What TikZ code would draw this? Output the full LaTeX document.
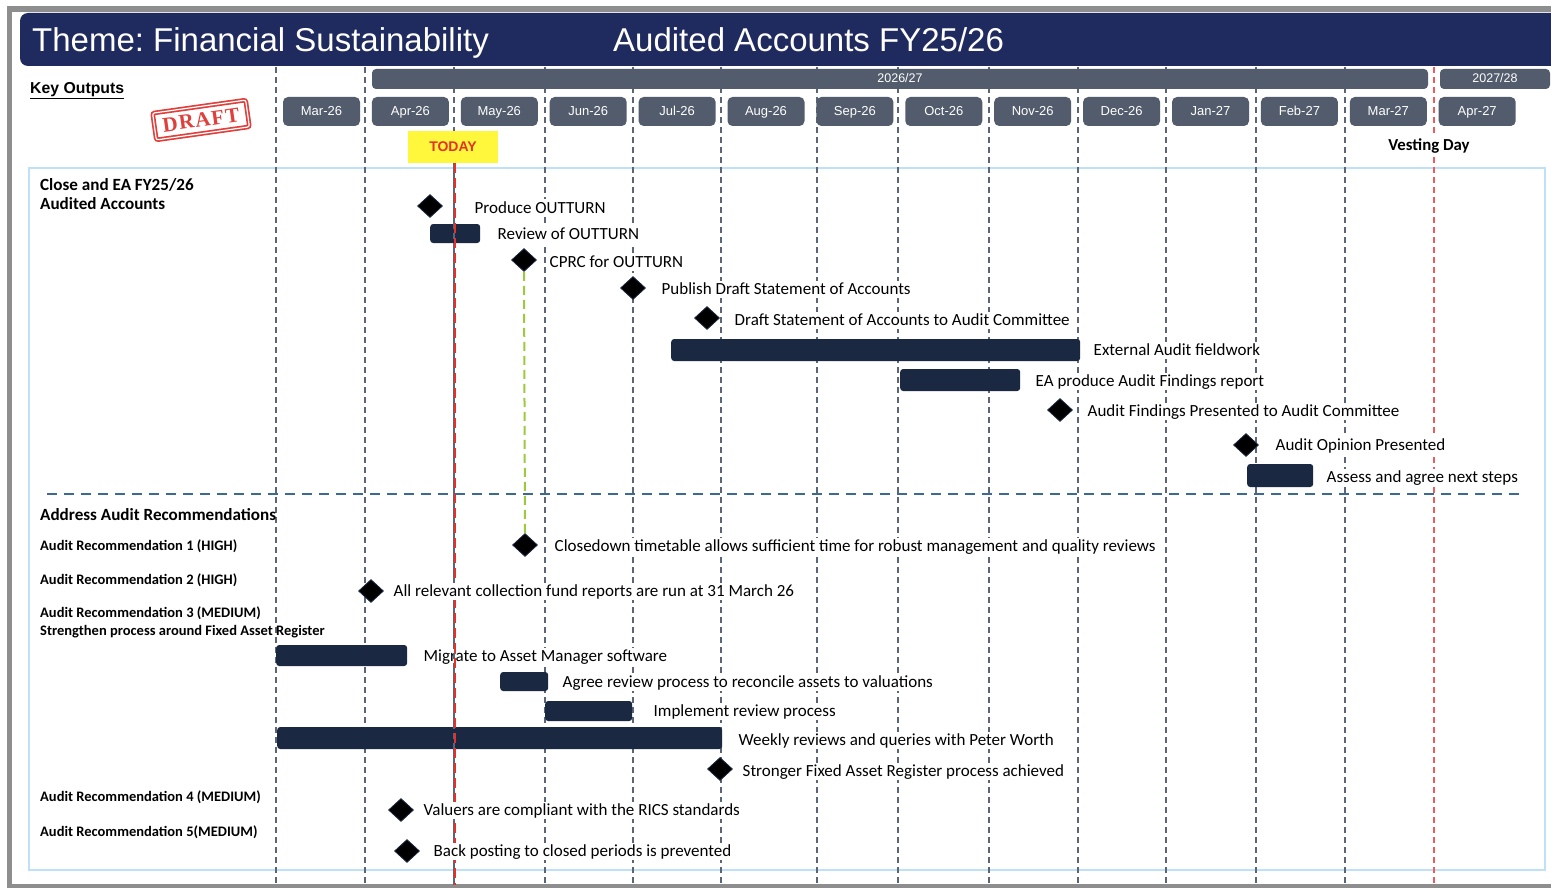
\documentclass[tikz,border=0pt]{standalone}
\usepackage{fontspec}
\setmainfont{Carlito}
\newfontfamily\arial{Liberation Sans}
\newfontfamily\stampfont[LetterSpace=6]{Liberation Serif}
\usetikzlibrary{shapes.geometric}
\frenchspacing

\definecolor{framegray}{HTML}{8E8E8E}
\definecolor{titlenavy}{HTML}{1F2A5E}
\definecolor{pillgray}{HTML}{525C6C}
\definecolor{barnavy}{HTML}{1B2841}
\definecolor{gridgray}{HTML}{5B6577}
\definecolor{todayred}{HTML}{E5312A}
\definecolor{vestred}{HTML}{F05A5A}
\definecolor{todayyellow}{HTML}{FFF73C}
\definecolor{panelblue}{HTML}{BFE1F7}
\definecolor{sepblue}{HTML}{3C6A91}
\definecolor{cprcgreen}{HTML}{9BCB3C}
\definecolor{stampred}{HTML}{E0403C}

\begin{document}
\begin{tikzpicture}[x=1pt,y=-1pt,
  gridline/.style={draw=gridgray,line width=1.3pt,dash pattern=on 6pt off 4pt},
  monthpill/.style={fill=pillgray,rounded corners=5pt,text=white,inner sep=0pt,
    minimum width=77pt,minimum height=29pt,text height=11pt,text depth=2.5pt,
    font=\arial\fontsize{13}{15}\selectfont},
  yearbar/.style={fill=pillgray,rounded corners=4pt,text=white,inner sep=0pt,
    minimum height=20pt,text height=10.5pt,text depth=2.5pt,font=\arial\fontsize{12.5}{14}\selectfont},
  taskbar/.style={fill=barnavy,rounded corners=3pt,inner sep=0pt,anchor=west},
  milestone/.style={diamond,fill=black,draw=barnavy,line width=0.8pt,inner sep=0pt,
    minimum width=25pt,minimum height=23pt},
  tasklabel/.style={anchor=west,fill=white,inner sep=1.5pt,text height=12pt,text depth=2pt,
    font=\fontsize{17}{19}\selectfont},
  headlabel/.style={anchor=west,inner sep=0pt,text height=12pt,text depth=2pt,
    font=\bfseries\fontsize{17.1}{19}\selectfont},
  reclabel/.style={anchor=west,inner sep=0pt,text height=10pt,text depth=2pt,
    font=\bfseries\fontsize{14.5}{16}\selectfont},
]
\useasboundingbox (0,0) rectangle (1551,888);

% page frame
\fill[framegray] (7,6) rectangle (1551,888);
\fill[white] (12,12) rectangle (1551,884);

% light blue panel round the schedule
\draw[panelblue,line width=1.2pt] (29,168) rectangle (1545,870);

% month grid lines and vesting day line
\foreach \x in {276,365,454,545,633,721,817,898,989,1078,1166,1256,1345}
  \draw[gridline] (\x,67) -- (\x,885);
\draw[vestred,line width=1.5pt,dash pattern=on 6pt off 4pt] (1434,67) -- (1434,885);

% title bar
\fill[titlenavy,rounded corners=8pt] (20,13) rectangle (1570,66);
\node[anchor=west,inner sep=0pt,text height=24pt,text depth=6pt,text=white,font=\arial\fontsize{33}{38}\selectfont] (title) at (32,43) {Theme: Financial Sustainability};
\node[anchor=west,inner sep=0pt,text height=24pt,text depth=6pt,text=white,font=\arial\fontsize{33}{38}\selectfont] (subtitle) at (613,43) {Audited Accounts FY25/26};

% financial years
\node[yearbar,minimum width=1056pt] (fy1) at (900,79) {2026/27};
\node[yearbar,minimum width=110pt] (fy2) at (1495,79) {2027/28};

% months
\foreach \m [count=\i from 0] in {Mar-26,Apr-26,May-26,Jun-26,Jul-26,Aug-26,Sep-26,Oct-26,Nov-26,Dec-26,Jan-27,Feb-27,Mar-27,Apr-27}
  \node[monthpill] (month\i) at ({321.5+88.9*\i},111.5) {\m};

% key outputs heading and draft stamp
\node[anchor=west,inner sep=0pt,font=\arial\bfseries\fontsize{15.8}{18}\selectfont] (keyout) at (30,91) {\underline{Key Outputs}};
\node[draw=stampred,line width=1.7pt,double=white,double distance=1.2pt,rounded corners=2pt,
  rotate=8,text=stampred,inner sep=0pt,minimum width=94pt,minimum height=27pt,
  font=\stampfont\bfseries\fontsize{21}{22}\selectfont] (stamp) at (201,120) {DRAFT};

% today marker and vesting day
\node[fill=todayyellow,text=todayred,inner sep=0pt,minimum width=90pt,minimum height=32pt,
  font=\arial\bfseries\fontsize{14}{16}\selectfont] (today) at (453,147) {TODAY};
\node[fill=white,inner sep=2pt,font=\bfseries\fontsize{16.8}{19}\selectfont] (vesting) at (1429,146) {Vesting Day};

% section headings
\node[headlabel] (sec1a) at (40,185) {Close and EA FY25/26};
\node[headlabel] (sec1b) at (40,205) {Audited Accounts};
\node[headlabel] (sec2) at (40,515) {Address Audit Recommendations};
\node[reclabel] (rec1) at (40,546) {Audit Recommendation 1 (HIGH)};
\node[reclabel] (rec2) at (40,580) {Audit Recommendation 2 (HIGH)};
\node[reclabel] (rec3) at (40,613) {Audit Recommendation 3 (MEDIUM)};
\node[reclabel] (rec3b) at (40,631) {Strengthen process around Fixed Asset Register};
\node[reclabel] (rec4) at (40,797) {Audit Recommendation 4 (MEDIUM)};
\node[reclabel] (rec5) at (40,832) {Audit Recommendation 5(MEDIUM)};

% activity bars
\node[taskbar,minimum width=50pt,minimum height=19pt] (b1) at (430,233.5) {};
\node[taskbar,minimum width=409pt,minimum height=22pt] (b2) at (671,350) {};
\node[taskbar,minimum width=120pt,minimum height=22pt] (b3) at (900,380) {};
\node[taskbar,minimum width=66pt,minimum height=23pt] (b4) at (1247,475.5) {};
\node[taskbar,minimum width=131pt,minimum height=21pt] (b5) at (276,655.5) {};
\node[taskbar,minimum width=48pt,minimum height=19pt] (b6) at (500,681.5) {};
\node[taskbar,minimum width=87pt,minimum height=20pt] (b7) at (545,711) {};
\node[taskbar,minimum width=445pt,minimum height=22pt] (b8) at (277,738) {};

% label drawn under the today line
\node[tasklabel] (l12) at (422,656) {Migrate to Asset Manager software};

% today line
\draw[gridgray,line width=1.3pt,dash pattern=on 6pt off 4pt] (today.south) ++(1,0) -- ++(0,722);
\draw[todayred,line width=2.4pt,dash pattern=on 10pt off 5pt] (today.south) ++(2,0) -- ++(0,722);

% separator between the two sections
\draw[sepblue,line width=2.5pt,dash pattern=on 10pt off 7pt] (47,494) -- (1525,494);

% milestones
\node[milestone] (m1) at (430,206) {};
\node[milestone] (m2) at (524,260) {};
\node[milestone] (m3) at (633,288) {};
\node[milestone] (m4) at (707,318) {};
\node[milestone] (m5) at (1060,410) {};
\node[milestone] (m6) at (1246,445) {};
\node[milestone] (m7) at (525,545) {};
\node[milestone] (m8) at (371,591) {};
\node[milestone] (m9) at (720,769) {};
\node[milestone] (m10) at (401,810) {};
\node[milestone] (m11) at (407,851) {};

% CPRC feeds the closedown timetable milestone
\draw[cprcgreen,line width=2pt,dash pattern=on 9pt off 5pt] (m2.south) -- (m7.north);

% activity labels
\node[tasklabel] (l1) at (473,208) {Produce OUTTURN};
\node[tasklabel] (l2) at (496,234) {Review of OUTTURN};
\node[tasklabel] (l3) at (548,262) {CPRC for OUTTURN};
\node[tasklabel] (l4) at (660,289) {Publish Draft Statement of Accounts};
\node[tasklabel] (l5) at (733,320) {Draft Statement of Accounts to Audit Committee};
\node[tasklabel] (l6) at (1092,350) {External Audit fieldwork};
\node[tasklabel] (l7) at (1034,381) {EA produce Audit Findings report};
\node[tasklabel] (l8) at (1086,411) {Audit Findings Presented to Audit Committee};
\node[tasklabel] (l9) at (1274,445) {Audit Opinion Presented};
\node[tasklabel] (l10) at (1325,477) {Assess and agree next steps};
\node[tasklabel] (l11) at (553,546) {Closedown timetable allows sufficient time for robust management and quality reviews};
\node[tasklabel] (l13) at (392,591) {All relevant collection fund reports are run at 31 March 26};
\node[tasklabel] (l14) at (561,682) {Agree review process to reconcile assets to valuations};
\node[tasklabel] (l15) at (652,711) {Implement review process};
\node[tasklabel] (l16) at (737,740) {Weekly reviews and queries with Peter Worth};
\node[tasklabel] (l17) at (741,771) {Stronger Fixed Asset Register process achieved};
\node[tasklabel] (l18) at (422,810) {Valuers are compliant with the RICS standards};
\node[tasklabel] (l19) at (432,851) {Back posting to closed periods is prevented};
\end{tikzpicture}
\end{document}
